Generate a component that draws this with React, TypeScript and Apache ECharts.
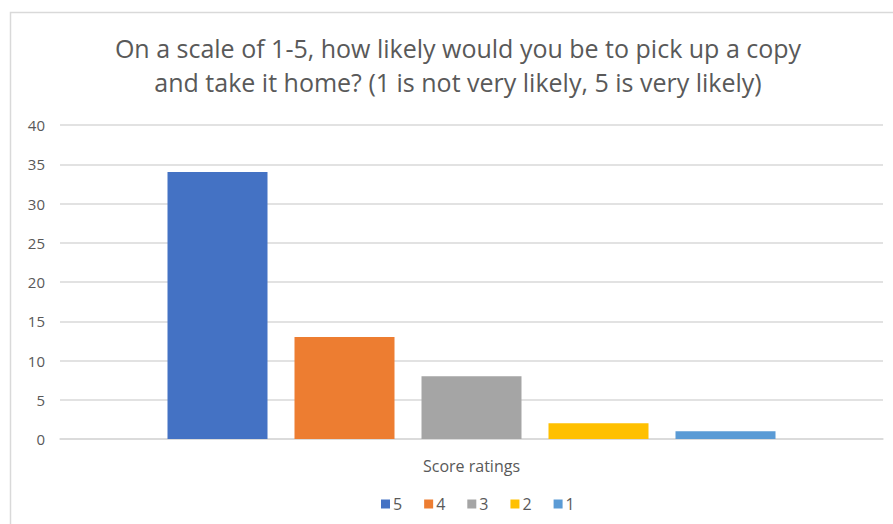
import React, { useEffect, useRef } from "react";
import * as echarts from "echarts";

const categories = [""];
const seriesNames = ["5", "4", "3", "2", "1"];
const seriesValues = [34, 13, 8, 2, 1];
const seriesColors = ["#4472C4", "#ED7D31", "#A5A5A5", "#FFC000", "#5B9BD5"];
const titleText = "On a scale of 1-5, how likely would you be to pick up a copy\nand take it home? (1 is not very likely, 5 is very likely)";
const xAxisName = "Score ratings";

export default function App() {
  const ref = useRef<HTMLDivElement>(null);
  useEffect(() => {
    const chart = echarts.init(ref.current!, null, { renderer: "svg" });
    const font = "Open Sans";
    chart.setOption({
      animation: false,
      backgroundColor: "#ffffff",
      textStyle: { fontFamily: font },
      title: {
        text: titleText,
        left: 458,
        textAlign: "center",
        top: 31,
        padding: 0,
        textStyle: { fontSize: 25, fontWeight: "normal", color: "#595959", lineHeight: 34, fontFamily: font },
      },
      graphic: [
        {
          type: "rect",
          shape: { x: 10.5, y: 12.5, width: 1000, height: 1000 },
          style: { fill: "none", stroke: "#d9d9d9", lineWidth: 1.5 },
          silent: true,
        },
      ],
      legend: {
        data: seriesNames,
        bottom: 7,
        left: 376,
        icon: "rect",
        itemWidth: 9,
        itemHeight: 9,
        itemGap: 22,
        textStyle: { fontSize: 16, color: "#595959", fontFamily: font, padding: [0, 0, 0, -2] },
      },
      grid: { left: 60, right: 10, top: 125, bottom: 85 },
      xAxis: {
        type: "category",
        data: categories,
        name: xAxisName,
        nameLocation: "middle",
        nameGap: 19,
        nameTextStyle: { fontSize: 16, color: "#595959", fontFamily: font },
        axisLine: { lineStyle: { color: "#d9d9d9", width: 1.5 } },
        axisTick: { show: false },
        axisLabel: { show: false },
      },
      yAxis: {
        type: "value",
        min: 0,
        max: 40,
        interval: 5,
        axisLine: { show: false },
        axisTick: { show: false },
        axisLabel: { fontSize: 15, color: "#595959", margin: 15, fontFamily: font },
        splitLine: { lineStyle: { color: "#d9d9d9", width: 1.5 } },
      },
      series: seriesNames.map((n, i) => ({
        name: n,
        type: "bar",
        data: [seriesValues[i]],
        barWidth: 100,
        barGap: "27%",
        itemStyle: { color: seriesColors[i] },
      })),
    });
    return () => chart.dispose();
  }, []);
  return (
    <div
      ref={ref}
      style={{ position: "fixed", left: 0, top: 0, width: 893, height: 524 }}
    />
  );
}
